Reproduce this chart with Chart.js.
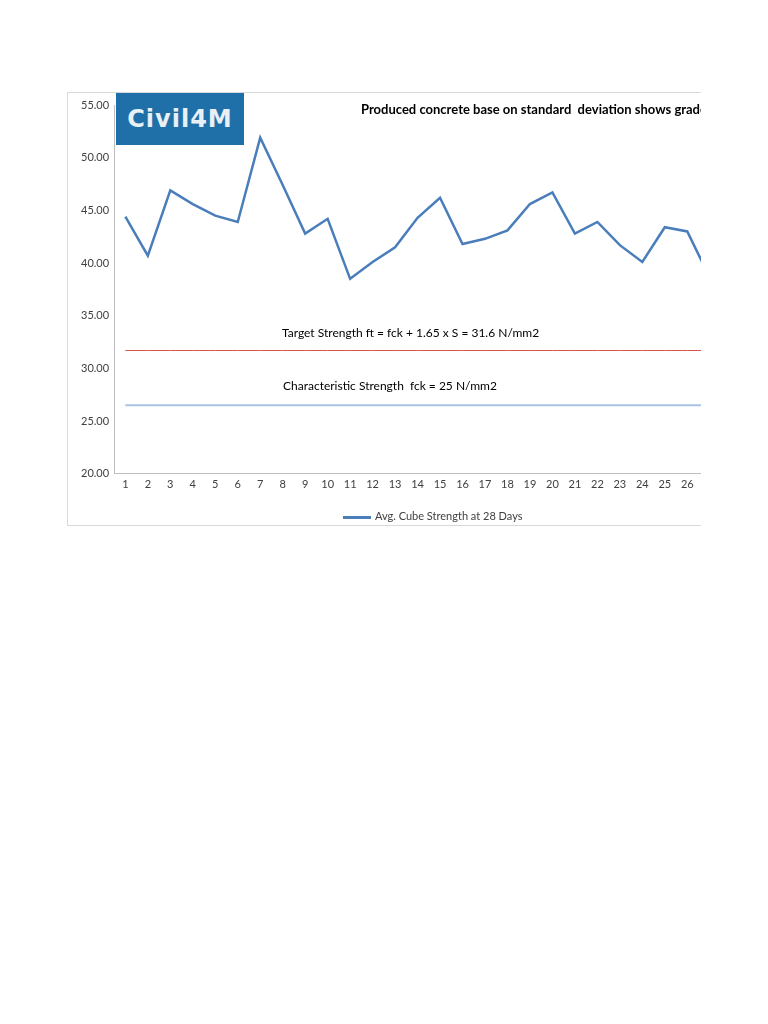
<!DOCTYPE html>
<html>
<head>
<meta charset="utf-8">
<script src="https://cdn.jsdelivr.net/npm/chart.js@4.4.1/dist/chart.umd.min.js"></script>
<style>
body { margin: 0; background: #fff; font-family: "Carlito", "Lato", sans-serif; }
#frame { position: absolute; left: 67px; top: 92px; width: 633px; height: 432px; overflow: hidden;
  border-left: 1px solid #d9d9d9; border-top: 1px solid #d9d9d9; border-bottom: 1px solid #d9d9d9; }
#wrap { position: absolute; left: 0; top: 0; width: 726px; height: 432px; }
#logo { position: absolute; left: 48px; top: 0; width: 128px; height: 52px; background: #1f6fa8;
  color: #e8f0f6; font: bold 24px "DejaVu Sans", sans-serif; line-height: 52px; text-align: center; letter-spacing: 1px; }
#title { position: absolute; left: 293px; top: 8px; white-space: nowrap; font: bold 13px "Lato", sans-serif; color: #000; }
#legend { position: absolute; left: 275px; top: 416px; font: 11px "Lato", sans-serif; color: #404040; white-space: nowrap; }
#legend span.sw { display: inline-block; width: 28px; height: 3px; background: #4a7ebb; vertical-align: middle; margin-right: 4px; }
</style>
</head>
<body>
<div id="frame">
  <div id="wrap"><canvas id="c"></canvas></div>
  <div id="logo">Civil4M</div>
  <div id="title">Produced concrete base on standard&nbsp; deviation shows grade M30</div>
  <div id="legend"><span class="sw"></span>Avg. Cube Strength at 28 Days</div>
</div>
<script>
var days = ["1","2","3","4","5","6","7","8","9","10","11","12","13","14","15","16","17","18","19","20","21","22","23","24","25","26","27"];
var cubeStrength = [44.4, 40.7, 46.9, 45.6, 44.5, 43.9, 51.9, 47.4, 42.8, 44.2, 38.5, 40.1, 41.5, 44.3, 46.2, 41.8, 42.3, 43.1, 45.6, 46.7, 42.8, 43.9, 41.7, 40.1, 43.4, 43.0, 38.6];
var targetStrength = 31.7;
var charStrength = 26.5;

var notes = {
  id: "notes",
  afterDatasetsDraw: function(chart) {
    var c = chart.ctx, y = chart.scales.y;
    c.save();
    c.fillStyle = "#000";
    c.font = "12px Lato, sans-serif";
    c.fillText("Target Strength ft = fck + 1.65 x S = 31.6 N/mm2", 214, y.getPixelForValue(targetStrength) - 14);
    c.fillText("Characteristic Strength  fck = 25 N/mm2", 215, y.getPixelForValue(charStrength) - 15);
    c.restore();
  }
};

new Chart(document.getElementById("c"), {
  type: "line",
  data: {
    labels: days,
    datasets: [
      { label: "Avg. Cube Strength at 28 Days", data: cubeStrength, borderColor: "#4a7ebb", borderWidth: 2.5, pointRadius: 0, tension: 0, fill: false },
      { label: "Target", data: days.map(function(){ return targetStrength; }), borderColor: "#d9534f", borderWidth: 1, pointRadius: 0 },
      { label: "Characteristic", data: days.map(function(){ return charStrength; }), borderColor: "#a9c4e4", borderWidth: 2, pointRadius: 0 }
    ]
  },
  options: {
    responsive: true,
    maintainAspectRatio: false,
    animation: false,
    layout: { padding: { top: 12, right: 73, bottom: 30, left: 8 } },
    plugins: { legend: { display: false }, tooltip: { enabled: false } },
    scales: {
      x: {
        offset: true,
        grid: { display: false, drawTicks: false },
        border: { color: "#bfbfbf" },
        ticks: { color: "#404040", font: { size: 11, family: "Lato" }, maxRotation: 0, autoSkip: false, padding: 4 }
      },
      y: {
        min: 20, max: 55,
        grid: { display: false, drawTicks: false },
        border: { color: "#bfbfbf" },
        ticks: { stepSize: 5, color: "#404040", font: { size: 11, family: "Lato" }, padding: 5,
          callback: function(v) { return v.toFixed(2); } }
      }
    }
  },
  plugins: [notes]
});
</script>
</body>
</html>
